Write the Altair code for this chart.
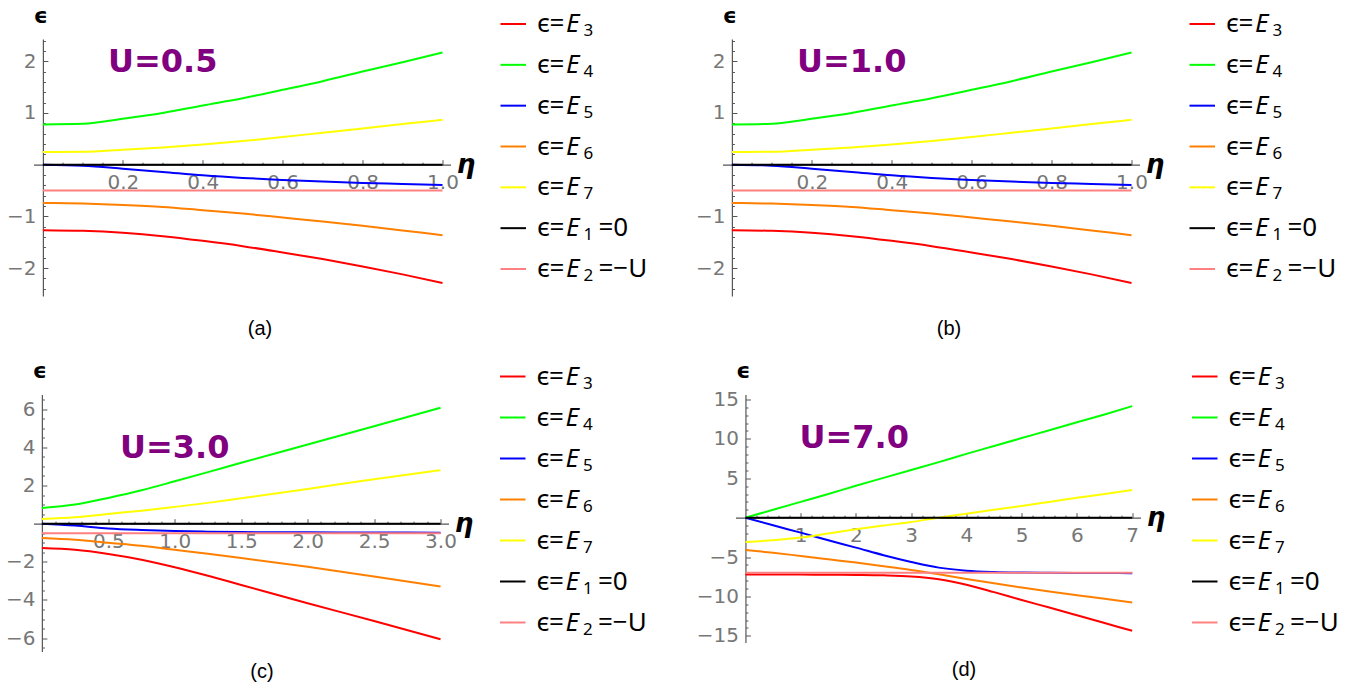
import altair as alt
import pandas as pd

# ---------------- data ----------------
series = ["s3", "s4", "s5", "s6", "s7", "s1", "s2"]
colors = ["#ff0000", "#00ff00", "#0000ff", "#ff8000", "#ffff00", "#000000", "#ff8080"]
subscripts = ["3", "4", "5", "6", "7", "1", "2"]
suffixes = ["", "", "", "", "", "=0", "=\u2212U"]

# panel (a) U=0.5  (panel (b) shows the same curves)
eta_a = [0.0, 0.1, 0.2, 0.3, 0.4, 0.5, 0.6, 0.7, 0.8, 0.9, 1.0]
a_E3 = [-1.267, -1.28, -1.318, -1.383, -1.473, -1.576, -1.698, -1.826, -1.968, -2.122, -2.289]
a_E4 = [0.778, 0.79, 0.887, 1.0, 1.145, 1.286, 1.447, 1.614, 1.80, 1.98, 2.17]
a_E5 = [0.0, -0.02, -0.077, -0.14, -0.206, -0.257, -0.296, -0.328, -0.354, -0.373, -0.392]
a_E6 = [-0.74, -0.752, -0.778, -0.817, -0.881, -0.945, -1.022, -1.10, -1.183, -1.273, -1.363]
a_E7 = [0.244, 0.25, 0.29, 0.334, 0.39, 0.457, 0.534, 0.617, 0.70, 0.785, 0.868]
eta_a_flat = [0.0, 1.0]
a_E1 = [0.0, 0.0]
a_E2 = [-0.5, -0.5]

# panel (c) U=3.0
eta_c = [0.0, 0.25, 0.5, 0.75, 1.0, 1.25, 1.5, 2.0, 2.5, 3.0]
c_E3 = [-1.28, -1.37, -1.59, -1.89, -2.28, -2.73, -3.21, -4.17, -5.10, -6.06]
c_E4 = [0.82, 1.0, 1.35, 1.75, 2.22, 2.70, 3.19, 4.15, 5.11, 6.08]
c_E5 = [0.0, -0.1, -0.25, -0.33, -0.385, -0.42, -0.44, -0.455, -0.465, -0.47]
c_E6 = [-0.75, -0.84, -1.0, -1.16, -1.37, -1.58, -1.80, -2.26, -2.77, -3.29]
c_E7 = [0.25, 0.33, 0.51, 0.68, 0.88, 1.09, 1.33, 1.82, 2.33, 2.80]
eta_c_flat = [0.0, 3.0]
c_E1 = [0.0, 0.0]
c_E2 = [-0.5, -0.5]

# panel (d) U=7.0
eta_d = [0.0, 0.5, 1.0, 1.5, 2.0, 2.5, 3.0, 3.5, 4.0, 4.5, 5.0, 5.5, 6.0, 6.5, 7.0]
d_E3 = [-7.2, -7.2, -7.22, -7.24, -7.27, -7.32, -7.45, -7.8, -8.5, -9.45, -10.45, -11.4, -12.38, -13.37, -14.36]
d_E4 = [0.0, 1.0, 2.0, 3.0, 4.05, 5.05, 6.05, 7.05, 8.1, 9.1, 10.1, 11.1, 12.1, 13.1, 14.15]
d_E5 = [0.0, -0.97, -1.9, -2.87, -3.8, -4.77, -5.62, -6.34, -6.72, -6.89, -6.97, -7.0, -7.02, -7.03, -7.04]
d_E6 = [-4.1, -4.45, -4.86, -5.28, -5.7, -6.15, -6.63, -7.18, -7.77, -8.33, -8.87, -9.37, -9.84, -10.3, -10.77]
d_E7 = [-3.08, -2.87, -2.53, -2.0, -1.48, -1.0, -0.55, 0.0, 0.5, 1.0, 1.48, 2.0, 2.53, 3.0, 3.5]
eta_d_flat = [0.0, 7.0]
d_E1 = [0.0, 0.0]
d_E2 = [-7.0, -7.0]

panel_labels = ["U=0.5", "U=1.0", "U=3.0", "U=7.0"]
panel_titles = ["(a)", "(b)", "(c)", "(d)"]


def long_df(eta, curves, eta_flat, flats):
    rows = []
    for key, vals in zip(["s3", "s4", "s5", "s6", "s7"], curves):
        for e, v in zip(eta, vals):
            rows.append({"s": key, "eta": e, "eps": v})
    for key, vals in zip(["s1", "s2"], flats):
        for e, v in zip(eta_flat, vals):
            rows.append({"s": key, "eta": e, "eps": v})
    return pd.DataFrame(rows)


df_a = long_df(eta_a, [a_E3, a_E4, a_E5, a_E6, a_E7], eta_a_flat, [a_E1, a_E2])
df_b = long_df(eta_a, [a_E3, a_E4, a_E5, a_E6, a_E7], eta_a_flat, [a_E1, a_E2])
df_c = long_df(eta_c, [c_E3, c_E4, c_E5, c_E6, c_E7], eta_c_flat, [c_E1, c_E2])
df_d = long_df(eta_d, [d_E3, d_E4, d_E5, d_E6, d_E7], eta_d_flat, [d_E1, d_E2])

# ---------------- styling / layout ----------------
AX = "#555555"
LAB = "#777777"
color_scale = alt.Scale(domain=series, range=colors)


def ticks(step, kmin, kmax, skip_every=None):
    out = []
    for k in range(kmin, kmax + 1):
        if k == 0:
            continue
        if skip_every and k % skip_every == 0:
            continue
        out.append(round(k * step, 6))
    return out


def panel(df, label, lx, ly, title, W, H, xdom, ydom,
          xmajor, xminor, xfmt, ymajor, yminor, yfmt, tdx, toff):
    y0 = H * ydom[1] / (ydom[1] - ydom[0])
    xoff = -W * xdom[1] / (xdom[1] - xdom[0])
    xscale = alt.Scale(domain=xdom, nice=False, zero=False)
    yscale = alt.Scale(domain=ydom, nice=False, zero=False)
    xaxis = alt.Axis(
        orient="top", offset=-y0, values=xmajor, format=xfmt, grid=False,
        tickSize=5, tickColor=AX, domainColor=AX, domainWidth=1.2,
        labelBaseline="top", labelAlign="center", labelPadding=-13,
        labelFont="DejaVu Sans", labelFontSize=20, labelColor=LAB,
        labelFlush=False, labelOverlap=False,
        title="η", titleX=W + 15, titleY=8, titleAngle=0, titleAlign="center",
        titleBaseline="alphabetic", titleFont="DejaVu Sans", titleFontSize=26,
        titleFontStyle="italic", titleFontWeight="bold", titleColor="black",
    )
    yaxis = alt.Axis(
        orient="right", offset=xoff, values=ymajor, format=yfmt, grid=False,
        tickSize=5, tickColor=AX, domainColor=AX, domainWidth=1.2,
        labelAlign="right", labelBaseline="middle", labelPadding=-12,
        labelFont="DejaVu Sans", labelFontSize=20, labelColor=LAB,
        labelFlush=False, labelOverlap=False,
        title="ϵ", titleX=-2.5, titleY=-17, titleAngle=0, titleAlign="center",
        titleBaseline="alphabetic", titleFont="DejaVu Sans", titleFontSize=22,
        titleFontWeight="bold", titleColor="black",
    )
    xaxis_minor = alt.Axis(orient="top", offset=-y0, values=xminor, grid=False,
                           labels=False, domain=False, tickSize=2.5, tickColor=AX,
                           title=None)
    yaxis_minor = alt.Axis(orient="right", offset=xoff, values=yminor, grid=False,
                           labels=False, domain=False, tickSize=2.5, tickColor=AX,
                           title=None)
    lines = alt.Chart(df).mark_line(strokeWidth=2, interpolate="monotone").encode(
        x=alt.X("eta:Q", scale=xscale, axis=xaxis),
        y=alt.Y("eps:Q", scale=yscale, axis=yaxis),
        color=alt.Color("s:N", scale=color_scale, legend=None),
        detail="s:N",
    )
    minor = alt.Chart(df).mark_line(opacity=0).encode(
        x=alt.X("eta:Q", scale=xscale, axis=xaxis_minor),
        y=alt.Y("eps:Q", scale=yscale, axis=yaxis_minor),
        detail="s:N",
    )
    ann = alt.Chart(pd.DataFrame({"eta": [lx], "eps": [ly], "t": [label]})).mark_text(
        font="DejaVu Sans", fontWeight="bold", fontSize=32, color="#800080",
        align="center", baseline="middle",
    ).encode(
        x=alt.X("eta:Q", scale=xscale, axis=None),
        y=alt.Y("eps:Q", scale=yscale, axis=None),
        text="t:N",
    )
    return alt.layer(minor, lines, ann).resolve_axis(
        x="independent", y="independent"
    ).properties(
        width=W, height=H,
        title=alt.TitleParams(
            title, orient="bottom", anchor="middle", frame="group", dx=tdx, offset=toff,
            font="Liberation Sans", fontSize=20, fontWeight="normal", color="black",
            baseline="top",
        ),
    )


def legend(W_L, H, rng, x0):
    ldf = pd.DataFrame({"s": series, "sub": subscripts, "suf": suffixes})
    yenc = alt.Y("s:N", sort=series, axis=None,
                 scale=alt.Scale(type="point", domain=series, range=rng, padding=0))
    base = alt.Chart(ldf).encode(y=yenc)
    rule = base.mark_rule(strokeWidth=2).encode(
        x=alt.value(x0), x2=alt.value(x0 + 25.5),
        color=alt.Color("s:N", scale=color_scale, legend=None),
    )

    def txt(dx, text, size=26, dy=8, style="normal"):
        return base.mark_text(align="left", baseline="alphabetic", dy=dy,
                              font="Noto Sans", fontSize=size, fontStyle=style,
                              color="black").encode(x=alt.value(x0 + dx), text=text)

    t_eps = txt(36.6, alt.value("ϵ"))
    t_eq = txt(49.0, alt.value("="))
    t_E = txt(65.5, alt.value("E"), style="italic")
    t_sub = txt(83.0, "sub:N", size=17, dy=12)
    t_suf = txt(98.0, "suf:N")
    return alt.layer(rule, t_eps, t_eq, t_E, t_sub, t_suf).properties(width=W_L, height=H)


pa = panel(df_a, panel_labels[0], 0.30, 1.98, panel_titles[0], 417, 257,
           [-0.0235, 1.02], [-2.54, 2.43],
           ticks(0.2, 1, 5), ticks(0.05, 1, 20, 4), ".1f",
           ticks(1, -2, 2), ticks(0.2, -12, 12, 5), "d", 18, 23)
pb = panel(df_b, panel_labels[1], 0.30, 1.98, panel_titles[1], 417, 257,
           [-0.0235, 1.02], [-2.54, 2.43],
           ticks(0.2, 1, 5), ticks(0.05, 1, 20, 4), ".1f",
           ticks(1, -2, 2), ticks(0.2, -12, 12, 5), "d", 18, 23)
pc = panel(df_c, panel_labels[2], 1.0, 3.97, panel_titles[2], 415, 257,
           [-0.063, 3.06], [-6.70, 6.77],
           ticks(0.5, 1, 6), ticks(0.1, 1, 30, 5), ".1f",
           ticks(2, -3, 3), ticks(0.5, -13, 13, 4), "d", 21, 10)
pd_ = panel(df_d, panel_labels[3], 1.97, 10.14, panel_titles[3], 405, 248,
            [-0.18, 7.15], [-15.84, 15.63],
            ticks(1, 1, 7), ticks(0.2, 1, 35, 5), "d",
            ticks(5, -3, 3), ticks(1, -15, 15, 5), "d", 26, 14.5)

la = legend(272, 257, [-15, 230], 50.0)
lb = legend(200, 257, [-15, 230], 50.0)
lc = legend(286.7, 257, [-18, 228], 51.5)
ld = legend(200, 248, [-18, 228], 51.5)

row1 = alt.hconcat(pa, la, pb, lb, spacing=0, bounds="flush").resolve_scale(
    x="independent", y="independent")
row2 = alt.hconcat(pc, lc, pd_, ld, spacing=0, bounds="flush").resolve_scale(
    x="independent", y="independent")

chart = alt.vconcat(row1, row2, spacing=20.5).resolve_scale(
    x="independent", y="independent"
).properties(
    padding={"left": 4.5, "top": 4, "right": 5, "bottom": 2},
    background="white",
).configure_view(stroke=None)

chart.save("out.html", embed_options={"renderer": "svg", "actions": False})
